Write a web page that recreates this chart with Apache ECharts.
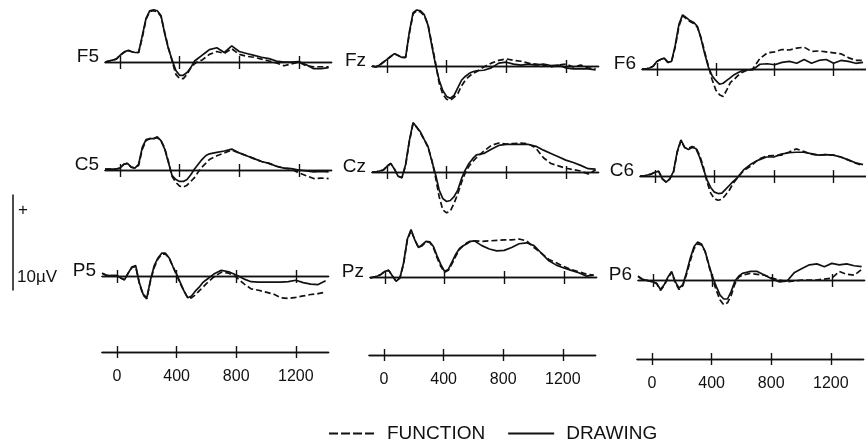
<!DOCTYPE html>
<html>
<head>
<meta charset="utf-8">
<script src="https://cdn.jsdelivr.net/npm/echarts@6/dist/echarts.min.js"></script>
<style>
  html, body { margin: 0; padding: 0; background: #fff; }
  #chart { width: 866px; height: 445px; }
</style>
</head>
<body>
<div id="chart"></div>
<script>
// sample times (ms) shared by every waveform
const times = [-100, -75, -50, -25, 0, 25, 50, 75, 100, 125, 150, 175, 200, 225, 250, 275, 300,
  325, 350, 375, 400, 425, 450, 475, 500, 525, 550, 575, 600,
  650, 700, 750, 800, 850, 900, 950, 1000, 1050, 1100, 1150, 1200, 1250, 1300, 1350, 1400];
const tickValues = [0, 400, 800, 1200];
const scaleBarUV = 10;

// amplitudes in microvolts, positive up
const f5Function = [0, 0.1, 0.2, 0.3, 0.7, 1.0, 1.3, 1.1, 1.0, 1.0, 2.6, 4.5, 5.3, 5.4, 5.3, 4.8, 3.1, 1.5, 0.1, -1.3, -1.75, -1.75, -1.3, -0.6, -0.2, 0.1, 0.2, 0.5, 0.8,
  1.1, 0.9, 1.4, 0.8, 0.6, 0.5, 0.3, 0.1, -0.1, -0.4, -0.2, 0, -0.4, -0.5, -0.5, -0.5];
const f5Drawing = [0, 0.1, 0.2, 0.3, 0.7, 1.0, 1.2, 1.1, 1.0, 1.0, 2.8, 4.6, 5.4, 5.5, 5.4, 4.9, 3.0, 1.4, 0.2, -0.9, -1.4, -1.4, -1.1, -0.6, 0.1, 0.4, 0.7, 1.0, 1.3,
  1.5, 1.0, 1.7, 1.1, 0.9, 0.7, 0.5, 0.35, 0.1, 0, 0, 0.05, -0.3, -0.7, -0.7, -0.6];

const fzFunction = [0, -0.1, 0.1, 0.4, 0.7, 1.0, 1.3, 1.1, 0.9, 0.9, 3.4, 5.5, 5.8, 5.7, 5.3, 4.4, 2.4, 0.4, -1.8, -3.0, -3.5, -3.6, -3.3, -2.9, -2.1, -1.5, -1.1, -0.8, -0.6,
  -0.1, 0.3, 0.6, 0.75, 0.6, 0.5, 0.3, 0.2, 0.1, -0.1, 0.1, 0.2, -0.1, 0.1, -0.2, -0.3];
const fzDrawing = [0, -0.1, 0.1, 0.4, 0.7, 1.0, 1.3, 1.1, 0.9, 0.9, 3.6, 5.6, 5.9, 5.8, 5.4, 4.3, 2.2, 0.2, -1.5, -2.6, -3.2, -3.4, -3.1, -2.3, -1.5, -1.1, -0.8, -0.6, -0.5,
  -0.45, -0.2, 0.3, 0.4, 0.2, 0.1, 0.2, 0.1, 0.2, 0.05, 0.1, -0.2, -0.3, -0.3, -0.3, -0.4];

const f6Function = [0, 0, 0.1, 0.3, 0.8, 1.0, 1.15, 0.7, 0.8, 2.3, 4.5, 5.6, 5.3, 5.0, 4.8, 4.4, 3.3, 1.8, 0.3, -1.1, -2.2, -2.7, -2.9, -2.2, -1.4, -1.1, -0.7, -0.4, -0.2,
  0.0, 1.1, 1.7, 1.8, 2.05, 2.0, 2.2, 2.3, 1.85, 1.9, 1.8, 1.7, 1.6, 1.2, 0.9, 0.9];
const f6Drawing = [0, 0, 0.1, 0.3, 0.8, 1.0, 1.15, 0.7, 0.8, 2.5, 4.7, 5.7, 5.4, 5.1, 4.9, 4.5, 3.2, 1.6, 0.2, -0.7, -1.2, -1.6, -1.5, -1.2, -0.9, -0.6, -0.4, -0.2, -0.1,
  -0.1, 0.5, 0.55, 0.45, 0.7, 0.8, 0.6, 1.0, 0.6, 0.9, 1.0, 0.6, 0.9, 0.8, 0.6, 0.7];

const c5Function = [0.1, 0.1, 0.1, 0.1, 0.2, 0.6, 0.7, 0.3, 0.2, 0.5, 2.2, 3.1, 3.3, 3.3, 3.4, 3.1, 2.3, 0.9, -0.7, -1.3, -1.7, -1.8, -1.6, -1.2, -0.8, -0.2, 0.3, 0.7, 1.1,
  1.5, 1.8, 2.1, 1.8, 1.5, 1.2, 0.9, 0.7, 0.4, 0.2, 0.1, -0.3, -0.6, -0.9, -0.85, -0.9];
const c5Drawing = [0.1, 0.1, 0.1, 0.1, 0.2, 0.6, 0.7, 0.3, 0.2, 0.6, 2.4, 3.2, 3.3, 3.3, 3.5, 3.1, 2.2, 0.8, -0.6, -1.0, -1.2, -1.2, -1.0, -0.5, 0.1, 0.6, 1.1, 1.5, 1.7,
  1.85, 2.0, 2.2, 1.8, 1.5, 1.2, 0.9, 0.7, 0.4, 0.2, 0.15, 0, -0.1, -0.2, -0.15, -0.2];

const czFunction = [0, 0, 0.1, 0.2, 0.6, 0.9, 0.3, -0.45, -0.6, 0.7, 3.2, 5.1, 4.7, 4.1, 3.4, 2.6, 1.3, -0.5, -2.6, -4.0, -4.3, -4.1, -3.3, -2.3, -1.1, -0.1, 0.6, 1.1, 1.5,
  2.2, 2.8, 3.05, 2.95, 3.0, 3.05, 2.95, 2.5, 1.5, 0.9, 0.65, 0.4, 0.25, 0.1, -0.2, 0.2];
const czDrawing = [0, 0, 0.1, 0.2, 0.6, 0.9, 0.3, -0.45, -0.6, 0.8, 3.3, 5.2, 4.7, 4.2, 3.4, 2.7, 1.2, -0.2, -1.9, -2.8, -3.1, -3.0, -2.6, -1.9, -0.7, 0.2, 0.9, 1.4, 1.8,
  1.95, 2.4, 2.8, 2.9, 2.9, 2.9, 2.9, 2.7, 2.3, 1.95, 1.6, 1.25, 1.0, 0.7, 0.35, 0.3];

const c6Function = [0, 0, 0.1, 0.2, 0.4, 0.5, -0.3, -0.65, -0.3, 0.4, 2.5, 3.7, 3.0, 2.9, 3.1, 3.0, 2.2, 1.0, -0.6, -1.8, -2.4, -2.55, -2.45, -2.0, -1.5, -0.8, -0.3, 0.2, 0.6,
  1.1, 1.8, 2.1, 2.15, 2.2, 2.5, 2.85, 2.6, 2.3, 2.2, 2.25, 2.2, 2.0, 1.7, 1.35, 1.1];
const c6Drawing = [0, 0, 0.1, 0.2, 0.4, 0.5, -0.3, -0.65, -0.3, 0.5, 2.6, 3.8, 3.0, 2.8, 3.0, 2.9, 2.0, 0.8, -0.4, -1.2, -1.7, -1.85, -1.8, -1.4, -1.0, -0.6, -0.25, 0.2, 0.7,
  1.3, 1.7, 2.0, 2.0, 2.3, 2.45, 2.5, 2.5, 2.35, 2.2, 2.25, 2.2, 2.0, 1.7, 1.4, 1.2];

const p5Function = [0.3, 0.1, 0.05, 0.05, 0.05, -0.2, -0.4, 0.3, 0.9, 1.0, -0.8, -2.0, -2.4, -0.5, 0.9, 1.8, 2.3, 2.3, 1.9, 1.0, 0.1, -0.8, -1.6, -2.3, -2.3, -2.0, -1.6, -1.2, -0.8,
  -0.1, 0.4, 0.3, -0.1, -0.8, -1.35, -1.5, -1.7, -1.9, -2.3, -2.35, -2.25, -2.1, -1.95, -1.85, -1.7];
const p5Drawing = [0.3, 0.1, 0.05, 0.05, 0.05, -0.2, -0.4, 0.3, 0.95, 1.1, -0.7, -1.9, -2.3, -0.4, 1.1, 1.9, 2.4, 2.4, 1.9, 1.0, 0.2, -0.7, -1.6, -2.3, -2.1, -1.6, -1.2, -0.7, -0.4,
  0.2, 0.6, 0.45, 0.1, -0.3, -0.6, -0.65, -0.65, -0.65, -0.65, -0.6, -0.45, -0.7, -0.85, -0.9, -0.5];

const pzFunction = [-0.1, 0, 0.1, 0.3, 0.6, 0.7, 0.1, -0.45, -0.1, 1.4, 3.9, 4.9, 3.9, 3.1, 3.3, 3.7, 3.65, 3.1, 2.0, 1.1, 0.5, 0.7, 1.4, 2.2, 2.9, 3.3, 3.6, 3.8, 3.8,
  3.75, 3.8, 3.85, 3.9, 3.9, 4.0, 3.8, 3.1, 2.5, 1.85, 1.5, 1.1, 0.8, 0.55, 0.3, 0.2];
const pzDrawing = [-0.1, 0, 0.1, 0.3, 0.6, 0.7, 0.1, -0.45, -0.1, 1.5, 4.0, 5.0, 3.9, 3.1, 3.4, 3.75, 3.7, 3.2, 2.2, 1.3, 0.6, 0.8, 1.6, 2.4, 3.0, 3.3, 3.5, 3.75, 3.8,
  3.3, 2.95, 2.75, 2.8, 3.1, 3.5, 3.6, 3.3, 2.5, 1.7, 1.25, 0.95, 0.7, 0.45, 0.1, 0.2];

const p6Function = [0.4, 0.1, 0, -0.1, -0.2, -0.4, -1.1, -0.6, 0.2, 0.8, -0.3, -1.0, -0.6, 0.6, 2.0, 3.3, 3.8, 3.7, 3.0, 1.5, 0.1, -1.1, -2.1, -2.6, -2.4, -1.6, -0.4, 0.3, 0.5,
  0.7, 0.6, 0.5, 0.2, 0, -0.2, -0.1, 0, 0, 0, 0.1, 0.2, 0.9, 0.6, 0.5, 1.1];
const p6Drawing = [0.4, 0.1, 0, -0.1, -0.2, -0.35, -1.0, -0.5, 0.3, 0.9, -0.2, -0.85, -0.5, 0.8, 2.3, 3.5, 4.0, 3.8, 3.0, 1.6, 0.3, -0.7, -1.6, -2.0, -2.0, -1.2, -0.1, 0.4, 0.7,
  0.9, 0.9, 0.5, 0.1, -0.2, -0.1, 0.8, 1.2, 1.6, 1.7, 1.4, 1.75, 1.6, 1.7, 1.5, 1.4];

const channels = ['F5', 'Fz', 'F6', 'C5', 'Cz', 'C6', 'P5', 'Pz', 'P6'];
const functionSeries = [f5Function, fzFunction, f6Function, c5Function, czFunction, c6Function, p5Function, pzFunction, p6Function];
const drawingSeries = [f5Drawing, fzDrawing, f6Drawing, c5Drawing, czDrawing, c6Drawing, p5Drawing, pzDrawing, p6Drawing];

// layout: pixel x of 0 ms and pixel y of the 0 uV baseline for each panel (scan is slightly tilted)
const panelZeroX = [120, 387, 657, 120, 387, 655, 117, 385, 653];
const panelBaseY = [62, 66, 69, 170, 172, 176, 276, 277, 280];
const timeAxisZeroX = [117, 384, 652];
const timeAxisY = [352, 355, 359];

const PX_MS = 0.149, PX_UV = 9.5;
const T_MIN = -100, T_MAX = 1420, V_MIN = -5.5, V_MAX = 6.5;
const INK = '#111';
const FONT = '"Liberation Sans", Arial, sans-serif';
const DASH = [6, 3];
const LINE_W = 1.7;

const grids = [], xAxes = [], yAxes = [], series = [], graphics = [];

// two x axes on the zero line so the ticks cross it (one points down, one up)
function addGrid(zeroX, baseY, vMin, vMax, withLabels, upLen, downLen) {
  const gridIndex = grids.length;
  grids.push({
    left: zeroX + T_MIN * PX_MS,
    top: baseY - vMax * PX_UV,
    width: (T_MAX - T_MIN) * PX_MS,
    height: (vMax - vMin) * PX_UV,
    containLabel: false
  });
  const xIndex = xAxes.length, yIndex = yAxes.length;
  const common = { gridIndex, type: 'value', min: T_MIN, max: T_MAX, splitLine: { show: false } };
  xAxes.push(Object.assign({}, common, {
    position: 'bottom',
    axisLine: { onZero: true, lineStyle: { color: INK, width: 1.4 } },
    axisTick: { customValues: tickValues, length: downLen, lineStyle: { color: INK, width: 1.4 } },
    axisLabel: withLabels
      ? { customValues: tickValues, margin: 17, color: INK, fontSize: 16, fontFamily: FONT, formatter: v => String(v) }
      : { show: false }
  }));
  xAxes.push(Object.assign({}, common, {
    position: 'top',
    axisLine: { onZero: true, lineStyle: { color: INK, width: 1.4 } },
    axisTick: { customValues: tickValues, length: upLen, lineStyle: { color: INK, width: 1.4 } },
    axisLabel: { show: false }
  }));
  yAxes.push({ gridIndex, type: 'value', min: vMin, max: vMax, show: false });
  yAxes.push({ gridIndex, type: 'value', min: vMin, max: vMax, show: false });
  return { xIndex, yIndex };
}

channels.forEach((name, i) => {
  const ax = addGrid(panelZeroX[i], panelBaseY[i], V_MIN, V_MAX, false, 6, 7);
  const common = {
    type: 'line', xAxisIndex: ax.xIndex, yAxisIndex: ax.yIndex,
    symbol: 'none', showSymbol: false, silent: true, animation: false,
    itemStyle: { color: INK }
  };
  series.push(Object.assign({}, common, {
    name: 'FUNCTION',
    data: times.map((t, k) => [t, functionSeries[i][k]]),
    lineStyle: { color: INK, width: LINE_W, type: DASH }, z: 3
  }));
  series.push(Object.assign({}, common, {
    name: 'DRAWING',
    data: times.map((t, k) => [t, drawingSeries[i][k]]),
    lineStyle: { color: INK, width: LINE_W }, z: 4
  }));
  graphics.push({
    type: 'text', x: panelZeroX[i] - 21, y: panelBaseY[i] - 5, silent: true,
    style: {
      text: name, fill: INK, font: '19px ' + FONT,
      align: 'right', textAlign: 'right', verticalAlign: 'middle', textVerticalAlign: 'middle'
    }
  });
});

// bottom time scales: the zero line sits on the grid's bottom edge
timeAxisZeroX.forEach((zx, i) => addGrid(zx, timeAxisY[i], 0, 1, true, 6, 6));

// 10 uV calibration bar
const barGrid = grids.length;
grids.push({ left: 13, top: 195, width: 10, height: 95 });
xAxes.push({ gridIndex: barGrid, type: 'value', min: 0, max: 1, show: false });
yAxes.push({
  gridIndex: barGrid, type: 'value', min: 0, max: scaleBarUV, position: 'left',
  axisLine: { show: true, onZero: false, lineStyle: { color: INK, width: 1.5 } },
  axisTick: { show: false }, axisLabel: { show: false }, splitLine: { show: false }
});
graphics.push({
  type: 'text', x: 23, y: 210, silent: true,
  style: { text: '+', fill: INK, font: '17px ' + FONT, align: 'center', textAlign: 'center', verticalAlign: 'middle', textVerticalAlign: 'middle' }
});
graphics.push({
  type: 'text', x: 17, y: 277, silent: true,
  style: { text: scaleBarUV + '\u00B5V', fill: INK, font: '17px ' + FONT, align: 'left', textAlign: 'left', verticalAlign: 'middle', textVerticalAlign: 'middle' }
});

const chart = echarts.init(document.getElementById('chart'));
chart.setOption({
  backgroundColor: '#fff',
  animation: false,
  grid: grids,
  xAxis: xAxes,
  yAxis: yAxes,
  legend: {
    left: 323, top: 419,
    itemWidth: 46, itemHeight: 14, itemGap: 22,
    selectedMode: false,
    itemStyle: { opacity: 0 },
    data: [
      { name: 'FUNCTION', lineStyle: { type: [9, 3], width: 2 } },
      { name: 'DRAWING', lineStyle: { width: 2 } }
    ],
    textStyle: { color: INK, fontSize: 19, fontFamily: FONT, padding: [0, 0, 0, 7] }
  },
  graphic: graphics,
  series: series
});
</script>
</body>
</html>
